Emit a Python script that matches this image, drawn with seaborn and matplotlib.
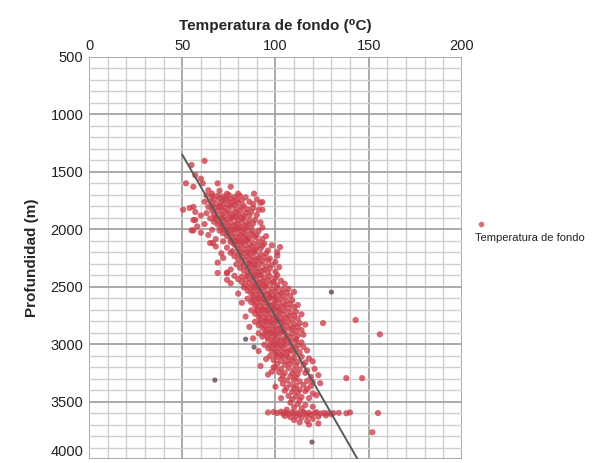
import matplotlib
matplotlib.use("Agg")
import matplotlib.pyplot as plt
from matplotlib.lines import Line2D
from matplotlib.ticker import MultipleLocator
import seaborn as sns
import pandas as pd

sns.set_style("white")
plt.rcParams['font.family'] = ['Liberation Sans', 'DejaVu Sans']

# ---------------- data (temperature degC, depth m) ----------------
upper_sparse = [(55,1440),(62,1405),(57,1530),(52,1600),(61,1600),(69,1600),(56,1630),(76,1630),
                (88.5,1690),(92,1770),(50.5,1830),(56,1805),(57,1920),(64,1660),(70,1665),(74,1690),
                (80,1690),(66,1690),(93,1763),(93,1830),(56,2010),(66.5,2120),(71,2210),(69,2380),
                (74,2380),(74,2440),(102.5,2155),(101,2200),(101,2400),(60,1560)]

cluster_1700_2100 = [
    (63,1705),(66,1712),(69,1708),(72,1715),(75,1702),(78,1718),(81,1710),(84,1722),(70,1730),(73,1735),
    (67,1740),(76,1738),(79,1745),(82,1750),(65,1755),(71,1760),(74,1752),(77,1765),(80,1770),(86,1760),
    (68,1775),(72,1782),(75,1790),(78,1785),(83,1795),(88,1780),(66,1795),(70,1798),(90,1740),(62,1760),
    (64,1805),(67,1812),(70,1808),(73,1815),(76,1802),(79,1820),(82,1810),(85,1825),(88,1815),(91,1830),
    (66,1835),(69,1840),(72,1838),(75,1845),(78,1850),(81,1842),(84,1855),(87,1850),(63,1860),(67,1868),
    (71,1872),(74,1865),(77,1878),(80,1870),(83,1885),(86,1880),(90,1875),(68,1890),(72,1895),(76,1898),
    (79,1892),(82,1900),(57,1850),(60,1880),(54,1815),
    (65,1905),(68,1912),(71,1908),(74,1915),(77,1902),(80,1920),(83,1910),(86,1925),(89,1918),(67,1935),
    (70,1940),(73,1938),(76,1945),(79,1950),(82,1942),(85,1955),(88,1950),(92,1940),(69,1960),(72,1968),
    (75,1972),(78,1965),(81,1978),(84,1970),(87,1985),(71,1990),(74,1995),(77,1998),(80,1992),(83,1999),
    (62,1955),(58,1975),(56,1920),(93,1985),
    (66,2005),(70,2012),(73,2008),(76,2015),(79,2002),(82,2020),(85,2010),(88,2025),(91,2015),(72,2035),
    (75,2040),(78,2038),(81,2045),(84,2050),(87,2042),(90,2055),(74,2060),(77,2068),(80,2072),(83,2065),
    (86,2078),(89,2070),(93,2085),(76,2090),(79,2095),(82,2098),(85,2092),(64,2050),(60,2030),(55,2010),
    (68,2085),(95,2060)]

cluster_2100_2500 = [
    (72,2105),(76,2112),(79,2108),(82,2115),(85,2102),(88,2120),(91,2110),(94,2125),(78,2135),(81,2140),
    (84,2138),(87,2145),(90,2150),(93,2142),(74,2160),(80,2168),(83,2172),(86,2165),(89,2178),(92,2170),
    (96,2185),(77,2190),(81,2195),(85,2198),(88,2192),(68,2150),(65,2120),(98,2140),
    (76,2205),(80,2212),(83,2208),(86,2215),(89,2202),(92,2220),(95,2210),(78,2235),(82,2240),(85,2238),
    (88,2245),(91,2250),(94,2242),(97,2255),(80,2260),(84,2268),(87,2272),(90,2265),(93,2278),(96,2270),
    (100,2285),(82,2290),(86,2295),(89,2298),(72,2250),(69,2290),(101,2230),
    (79,2305),(83,2312),(86,2308),(89,2315),(92,2302),(95,2320),(98,2310),(81,2335),(85,2340),(88,2338),
    (91,2345),(94,2350),(97,2342),(83,2360),(87,2368),(90,2372),(93,2365),(96,2378),(100,2370),(85,2390),
    (89,2395),(92,2398),(76,2350),(74,2380),(102,2330),
    (78,2405),(82,2412),(85,2408),(88,2415),(91,2402),(94,2420),(97,2410),(100,2425),(80,2435),(84,2440),
    (87,2438),(90,2445),(93,2450),(96,2442),(99,2455),(103,2448),(82,2460),(86,2468),(89,2472),(92,2465),
    (95,2478),(98,2470),(101,2485),(84,2490),(88,2495),(91,2498),(94,2492),(105,2475),(76,2470)]

cluster_2500_3100 = [
    (83,2505),(86,2512),(89,2508),(92,2515),(95,2502),(98,2520),(101,2510),(104,2525),(107,2518),(85,2535),
    (88,2540),(91,2538),(94,2545),(97,2550),(100,2542),(103,2555),(106,2550),(87,2560),(90,2568),(93,2572),
    (96,2565),(99,2578),(102,2570),(105,2585),(108,2578),(88,2590),(91,2595),(94,2598),(97,2592),(100,2599),
    (80,2560),(110,2545),
    (85,2605),(88,2612),(91,2608),(94,2615),(97,2602),(100,2620),(103,2610),(106,2625),(109,2618),(87,2635),
    (90,2640),(93,2638),(96,2645),(99,2650),(102,2642),(105,2655),(108,2650),(89,2660),(92,2668),(95,2672),
    (98,2665),(101,2678),(104,2670),(107,2685),(110,2678),(90,2690),(93,2695),(96,2698),(99,2692),(102,2699),
    (82,2640),(112,2660),
    (87,2705),(90,2712),(93,2708),(96,2715),(99,2702),(102,2720),(105,2710),(108,2725),(111,2718),(89,2735),
    (92,2740),(95,2738),(98,2745),(101,2750),(104,2742),(107,2755),(110,2750),(91,2760),(94,2768),(97,2772),
    (100,2765),(103,2778),(106,2770),(109,2785),(112,2778),(92,2790),(95,2795),(98,2798),(101,2792),(104,2799),
    (84,2760),(114,2740),
    (89,2805),(92,2812),(95,2808),(98,2815),(101,2802),(104,2820),(107,2810),(110,2825),(113,2818),(91,2835),
    (94,2840),(97,2838),(100,2845),(103,2850),(106,2842),(109,2855),(112,2850),(93,2860),(96,2868),(99,2872),
    (102,2865),(105,2878),(108,2870),(111,2885),(114,2878),(95,2890),(98,2895),(101,2898),(104,2892),(86,2850),
    (116,2830),
    (91,2905),(94,2912),(97,2908),(100,2915),(103,2902),(106,2920),(109,2910),(112,2925),(115,2918),(93,2935),
    (96,2940),(99,2938),(102,2945),(105,2950),(108,2942),(111,2955),(96,2960),(99,2968),(102,2972),(105,2965),
    (108,2978),(111,2970),(114,2985),(98,2990),(101,2995),(104,2998),(88,2950),
    (94,3005),(97,3012),(100,3008),(103,3015),(106,3002),(109,3020),(112,3010),(115,3025),(96,3035),(99,3040),
    (102,3038),(105,3045),(108,3050),(111,3042),(117,3055),(98,3060),(101,3068),(104,3072),(107,3065),(110,3078),
    (113,3070),(100,3090),(103,3095),(106,3098),(91,3060)]

cluster_3100_3580 = [
    (97,3105),(101,3112),(104,3108),(107,3115),(110,3120),(114,3110),(118,3125),(99,3140),(103,3145),(106,3150),
    (109,3142),(112,3155),(116,3160),(120,3150),(101,3170),(105,3178),(108,3172),(111,3185),(115,3180),(92,3190),
    (95,3130),(99,3200),
    (100,3205),(103,3215),(107,3210),(110,3225),(113,3220),(117,3230),(121,3215),(102,3245),(105,3250),(109,3255),
    (112,3260),(116,3250),(104,3275),(108,3280),(111,3290),(119,3285),(123,3270),(96,3265),(98,3240),
    (103,3305),(106,3315),(110,3310),(113,3325),(117,3320),(120,3330),(104,3345),(108,3350),(111,3360),(115,3355),
    (119,3365),(124,3340),(106,3380),(110,3385),(113,3395),(100,3370),(117,3390),
    (105,3405),(109,3415),(112,3420),(116,3410),(120,3430),(107,3450),(111,3455),(114,3460),(118,3470),(122,3445),
    (109,3480),(113,3490),(103,3470),
    (108,3510),(112,3520),(116,3530),(110,3550),(114,3560),(120,3545),(106,3570)]

band_3600 = [
    (96,3595),(99,3590),(101,3600),(103,3588),(104,3605),(106,3595),(107,3610),(109,3592),(110,3602),(112,3598),
    (113,3612),(115,3590),(116,3605),(118,3598),(119,3615),(121,3600),(122,3592),(124,3605),(126,3598),(128,3603),
    (131,3600),(134,3598),(138,3602),(140,3595),(105,3625),(108,3635),(111,3630),(114,3640),(117,3625),(120,3650),
    (123,3630),(127,3620),(110,3660),(117,3670),(113,3680),(118,3700),(123,3690),(130,3610),(155,3600)]

outliers_red = [(143,2790),(156,2915),(125.5,2817),(138,3296),(146.5,3296),(152,3767)]
outliers_dark = [(130,2547),(84,2957),(88.5,3026),(67.5,3313),(119.6,3853)]

trend_temp = [50, 144]
trend_depth = [1350, 4000]

series_label = "Temperatura de fondo"
x_label = "Temperatura de fondo (\u2070C)"
y_label = "Profundidad (m)"
x_ticks = [0, 50, 100, 150, 200]
y_ticks = [500, 1000, 1500, 2000, 2500, 3000, 3500, 4000]

# ---------------- build frames ----------------
red_pts = (upper_sparse + cluster_1700_2100 + cluster_2100_2500 + cluster_2500_3100
           + cluster_3100_3580 + band_3600 + outliers_red)
df = pd.DataFrame(red_pts, columns=["temp", "depth"])
df_dark = pd.DataFrame(outliers_dark, columns=["temp", "depth"])
df_trend = pd.DataFrame({"temp": trend_temp, "depth": trend_depth})

fig = plt.figure(figsize=(6.03, 4.63), dpi=100)
ax = fig.add_axes([0.1476, 0.0086, 0.6184, 0.8684])

red = "#cc3d4a"
sns.scatterplot(data=df, x="temp", y="depth", ax=ax, color=red, s=20, alpha=0.78,
                edgecolor="none", zorder=3, legend=False)
sns.scatterplot(data=df_dark, x="temp", y="depth", ax=ax, color="#6a5360", s=14, alpha=0.85,
                edgecolor="none", zorder=3, legend=False)
sns.lineplot(data=df_trend, x="temp", y="depth", ax=ax, color="#5a5a5a", lw=1.4,
             sort=False, estimator=None, zorder=4)

ax.set_xlim(0, 200)
ax.set_ylim(4000, 500)
ax.xaxis.tick_top()
ax.xaxis.set_label_position("top")
ax.set_xticks(x_ticks)
ax.set_yticks(y_ticks)
ax.xaxis.set_minor_locator(MultipleLocator(10))
ax.yaxis.set_minor_locator(MultipleLocator(100))
ax.grid(which="minor", color="#cfcfcf", lw=1.0)
ax.grid(which="major", color="#a3a3a3", lw=1.3)
ax.set_axisbelow(True)
for s in ax.spines.values():
    s.set_visible(False)
ax.tick_params(axis="both", which="both", length=0, labelsize=10.5, colors="#222222", pad=4)
ax.tick_params(axis="x", pad=3)
# keep the bottom label inside the figure
ax.get_yticklabels()[-1].set_va("bottom")

ax.set_xlabel(x_label, fontsize=11, fontweight="bold", labelpad=6,
              family=["Liberation Sans Narrow", "Liberation Sans", "DejaVu Sans"])
ax.set_ylabel(y_label, fontsize=11, fontweight="bold", labelpad=8,
              family=["Liberation Sans Narrow", "Liberation Sans", "DejaVu Sans"])

# legend (marker above the label, as in the reference)
fig.add_artist(Line2D([0.7975], [0.516], transform=fig.transFigure, marker="o", ls="none",
                      markersize=4, color=red, alpha=0.75, markeredgewidth=0))
fig.text(0.787, 0.486, series_label, fontsize=8, color="#222222", va="center", ha="left")

fig.savefig("out.png", dpi=100)
